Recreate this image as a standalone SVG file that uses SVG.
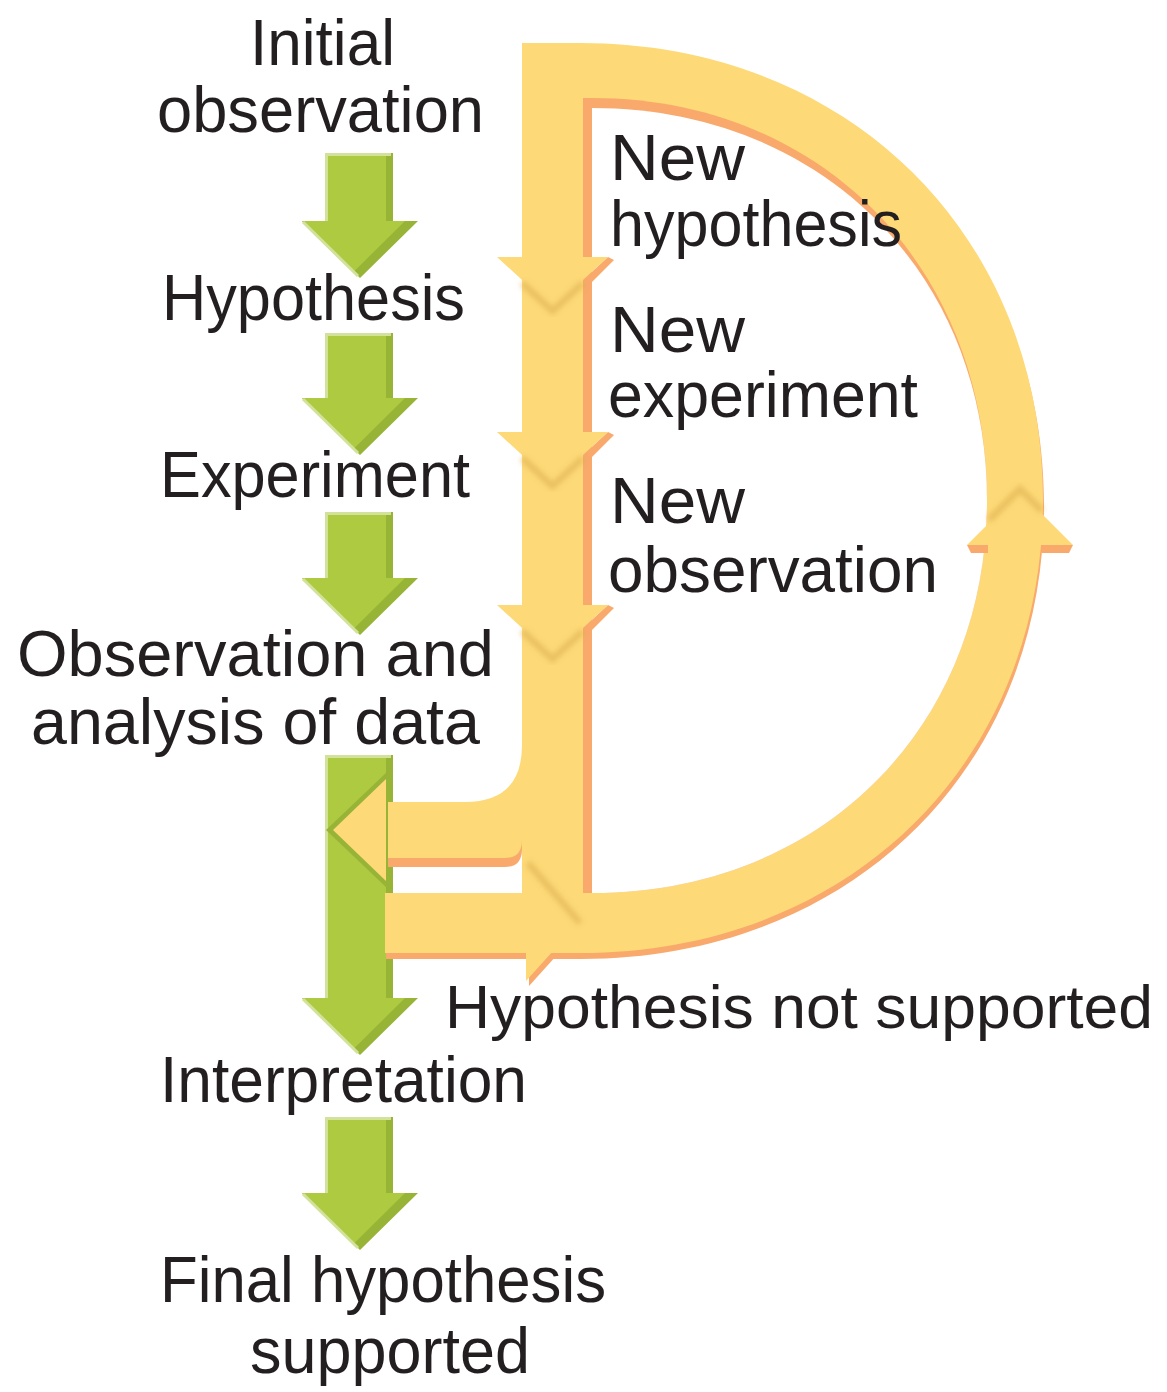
<svg xmlns="http://www.w3.org/2000/svg" width="1167" height="1392" viewBox="0 0 1167 1392">
<defs>
<style>
.t{font-family:"Liberation Sans",Arial,sans-serif;font-size:64px;fill:#231f20}
.y{fill:#fdd977}
.o{fill:#f8a96b}
.gd{fill:#98b437}
.gm{fill:#aeca41}
.gl{fill:none;stroke:#d3e29b;stroke-width:3}
.sh{fill:none;stroke:#d9a94a;stroke-opacity:.5;stroke-width:7;filter:url(#b)}
</style>
<filter id="b" x="-20%" y="-20%" width="140%" height="140%"><feGaussianBlur stdDeviation="2.5"/></filter>
</defs>
<rect width="1167" height="1392" fill="#fff"/>

<g id="connectors">
  <g id="green-arrow-1">
    <path class="gd" d="M325,153 H393 V221 H418 L360,278 L302,221 H325 Z"/>
    <path class="gm" d="M325,153 H386 V221 H405 L354,271.5 L302,221 H325 Z"/>
    <path class="gl" d="M326.5,221 V154.5 H391 M303,222 L358,276"/>
  </g>
  <g id="green-arrow-2">
    <path class="gd" d="M325,333 H393 V398 H418 L360,455 L302,398 H325 Z"/>
    <path class="gm" d="M325,333 H386 V398 H405 L354,448.5 L302,398 H325 Z"/>
    <path class="gl" d="M326.5,398 V334.5 H391 M303,399 L358,453"/>
  </g>
  <g id="green-arrow-3">
    <path class="gd" d="M325,512 H393 V578 H418 L360,635 L302,578 H325 Z"/>
    <path class="gm" d="M325,512 H386 V578 H405 L354,628.5 L302,578 H325 Z"/>
    <path class="gl" d="M326.5,578 V513.5 H391 M303,579 L358,633"/>
  </g>
  <g id="green-arrow-4">
    <path class="gd" d="M325,755 H393 V998 H418 L360,1055 L302,998 H325 Z"/>
    <path class="gm" d="M325,755 H386 V998 H405 L354,1048.5 L302,998 H325 Z"/>
    <path class="gl" d="M326.5,998 V756.5 H391 M303,999 L358,1053"/>
  </g>
  <g id="green-arrow-5">
    <path class="gd" d="M325,1117 H393 V1193 H418 L360,1250 L302,1193 H325 Z"/>
    <path class="gm" d="M325,1117 H386 V1193 H405 L354,1243.5 L302,1193 H325 Z"/>
    <path class="gl" d="M326.5,1193 V1118.5 H391 M303,1194 L358,1248"/>
  </g>

  <g id="yellow-loop">
    <path class="o" transform="translate(1,6)" d="M522,43 H580 C849,43 1043,235 1043,500 C1043,763 849,953 580,953 H385 V893 H522 Z"/>
    <path class="o" transform="translate(0,9)" d="M522,745 Q522,802 465,802 H386 V858 H505 Q522,858 522,840 Z"/>
    <polygon class="o" transform="translate(3,5)" points="526,858 581,920 526,981"/>
    <path class="y" d="M522,43 H580 C849,43 1043,235 1043,500 C1043,763 849,953 580,953 H385 V893 H522 Z"/>
    <path class="y" d="M522,745 Q522,802 465,802 H386 V858 H505 Q522,858 522,840 Z"/>
    <polygon class="gd" points="388,771 326,830 388,889"/>
    <polygon class="y" points="386,779 333,830 386,881"/>
    <path class="o" d="M583,893 V98 H592 C821,98 987,267 987,500 C987,728 821,893 592,893 Z"/>
    <path fill="#fff" d="M592,893 V108 C821,108 987,273 987,500 C987,728 821,893 592,893 Z"/>
    <polygon class="y" points="526,858 581,920 526,981"/>
    <polyline class="sh" points="528,863 580,923"/>

    <polygon class="o" points="608,257 614,260 590,284 583,286 583,280"/>
    <polygon class="y" points="497,257 608,257 552.5,308"/>
    <polyline class="sh" points="522,283 552.5,311 583,283"/>

    <polygon class="o" points="608,432 614,435 590,459 583,461 583,455"/>
    <polygon class="y" points="497,432 608,432 552.5,483"/>
    <polyline class="sh" points="522,458 552.5,486 583,458"/>

    <polygon class="o" points="608,605 614,608 590,632 583,634 583,628"/>
    <polygon class="y" points="497,605 608,605 552.5,656"/>
    <polyline class="sh" points="522,631 552.5,659 583,631"/>

    <polygon class="o" points="967,545 988,545 988,553 971,553"/>
    <polygon class="o" points="1042,545 1073,545 1069,553 1042,553"/>
    <polygon class="y" points="967,545 1020,492 1073,545"/>
    <polyline class="sh" points="989,520 1020,489 1042,511"/>
  </g>
</g>

<g id="node-initial-observation">
  <text class="t" x="250" y="65" textLength="145" lengthAdjust="spacingAndGlyphs">Initial</text>
  <text class="t" x="157" y="132" textLength="327" lengthAdjust="spacingAndGlyphs">observation</text>
</g>
<g id="node-hypothesis">
  <text class="t" x="162" y="320" textLength="303" lengthAdjust="spacingAndGlyphs">Hypothesis</text>
</g>
<g id="node-experiment">
  <text class="t" x="160" y="497" textLength="310" lengthAdjust="spacingAndGlyphs">Experiment</text>
</g>
<g id="node-observation-analysis">
  <text class="t" x="17" y="676" textLength="477" lengthAdjust="spacingAndGlyphs">Observation and</text>
  <text class="t" x="31" y="744" textLength="449" lengthAdjust="spacingAndGlyphs">analysis of data</text>
</g>
<g id="node-interpretation">
  <text class="t" x="160" y="1102" textLength="367" lengthAdjust="spacingAndGlyphs">Interpretation</text>
</g>
<g id="node-final">
  <text class="t" x="160" y="1302" textLength="446" lengthAdjust="spacingAndGlyphs">Final hypothesis</text>
  <text class="t" x="250" y="1373" textLength="280" lengthAdjust="spacingAndGlyphs">supported</text>
</g>
<g id="node-new-hypothesis">
  <text class="t" x="610" y="180" textLength="135" lengthAdjust="spacingAndGlyphs">New</text>
  <text class="t" x="610" y="246" textLength="292" lengthAdjust="spacingAndGlyphs">hypothesis</text>
</g>
<g id="node-new-experiment">
  <text class="t" x="610" y="352" textLength="135" lengthAdjust="spacingAndGlyphs">New</text>
  <text class="t" x="608" y="417" textLength="310" lengthAdjust="spacingAndGlyphs">experiment</text>
</g>
<g id="node-new-observation">
  <text class="t" x="610" y="523" textLength="135" lengthAdjust="spacingAndGlyphs">New</text>
  <text class="t" x="608" y="592" textLength="330" lengthAdjust="spacingAndGlyphs">observation</text>
</g>
<g id="node-not-supported">
  <text class="t" x="445" y="1028" style="font-size:62px" textLength="708" lengthAdjust="spacingAndGlyphs">Hypothesis not supported</text>
</g>
</svg>
